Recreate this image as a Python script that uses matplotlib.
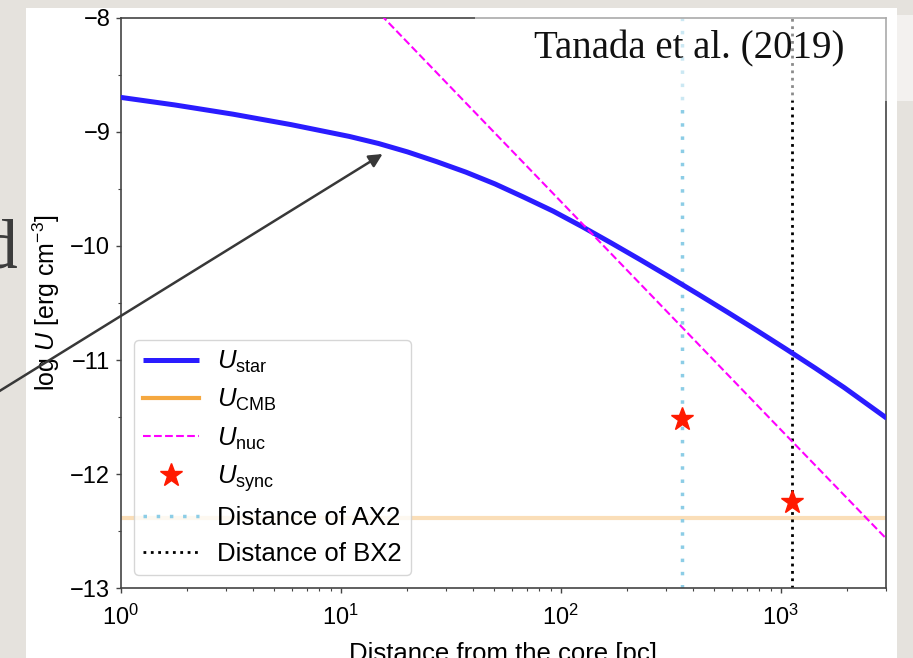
import matplotlib
matplotlib.use("Agg")
import matplotlib.pyplot as plt
from matplotlib.patches import Rectangle
from matplotlib.ticker import MultipleLocator
import numpy as np

plt.rcParams['font.family'] = ['Liberation Sans', 'DejaVu Sans']
plt.rcParams['mathtext.fontset'] = 'custom'
plt.rcParams['mathtext.rm'] = 'Liberation Sans'
plt.rcParams['mathtext.it'] = 'Liberation Sans:italic'
plt.rcParams['mathtext.bf'] = 'Liberation Sans:bold'

# stellar radiation energy density along the jet (log r [pc], log U)
star_logr = [0.0, 0.245, 0.510, 0.775, 1.039, 1.172, 1.304, 1.436, 1.569, 1.701, 1.833,
             1.966, 2.098, 2.230, 2.363, 2.495, 2.627, 2.760, 2.892, 3.024, 3.157, 3.289, 3.482]
star_logu = [-8.699, -8.765, -8.846, -8.938, -9.041, -9.103, -9.177, -9.262, -9.354, -9.457,
             -9.574, -9.696, -9.832, -9.975, -10.123, -10.273, -10.426, -10.583, -10.742,
             -10.904, -11.071, -11.242, -11.51]

# nucleus photon field (r^-2 fall-off)
nuc_r = [10, 100, 1000, 3000]
nuc_logu = [-7.61, -9.61, -11.61, -12.56]

# CMB level
cmb_r = [1, 3000]
cmb_logu = [-12.38, -12.38]

# synchrotron energy density of the two knots
sync_r = [355, 1130]
sync_logu = [-11.52, -12.24]

dist_ax2 = 355
dist_bx2 = 1130

W, H = 913, 658
fig = plt.figure(figsize=(W / 100, H / 100), dpi=100)
fig.patch.set_facecolor('#e5e2dd')

# white slide panel behind the plot
fig.add_artist(Rectangle((26 / W, 0), 871 / W, 650 / H, transform=fig.transFigure,
                         facecolor='white', edgecolor='none', zorder=-1))

ax = fig.add_axes([120.7 / W, 1 - 588.3 / H, 765 / W, 570.7 / H])

ax.plot(10 ** np.array(star_logr), star_logu, color='#2a1cff', lw=3.6, label=r'$U_{\rm star}$',
        zorder=3, solid_capstyle='butt')
ax.plot(cmb_r, cmb_logu, color='#f8c98a', lw=3, alpha=0.6, label=r'$U_{\rm CMB}$', zorder=2)
ax.plot(nuc_r, nuc_logu, color='#ff00ff', lw=1.5, ls='--', label=r'$U_{\rm nuc}$', zorder=3)
ax.plot(sync_r, sync_logu, ls='none', marker='*', ms=17, color='#ff1a00', label=r'$U_{\rm sync}$', zorder=5)
ax.axvline(dist_ax2, color='#8ccde6', lw=2.5, ls=(0, (1, 2.8)), label='Distance of AX2', zorder=2)
ax.axvline(dist_bx2, color='k', lw=2, ls=':', label='Distance of BX2', zorder=2)

ax.set_xscale('log')
ax.set_xlim(1, 3000)
ax.set_ylim(-13, -8)
ax.yaxis.set_major_locator(MultipleLocator(1))
ax.yaxis.set_minor_locator(MultipleLocator(0.5))

for s in ax.spines.values():
    s.set_color('#444444')
    s.set_linewidth(1.2)
ax.tick_params(which='major', length=3.5, width=1, color='#444444', labelsize=17, pad=4)
ax.tick_params(which='minor', length=2, width=0.8, color='#444444')
ax.tick_params(axis='x', which='major', pad=8)

ax.set_xlabel('Distance from the core [pc]', fontsize=18.5, labelpad=9)
ax.set_ylabel(r'log $U$ [erg cm$^{-3}$]', fontsize=18, labelpad=6)

leg = ax.legend(loc='lower left', fontsize=18.5, handlelength=2.2, labelspacing=0.47,
                borderpad=0.35, handletextpad=0.7)
leg.get_lines()[1].set_color('#f5a840')
leg.get_lines()[1].set_alpha(1)

# citation box in the top-right corner
fig.add_artist(Rectangle((475 / W, 1 - 101 / H), 440 / W, 86 / H, transform=fig.transFigure,
                         facecolor='white', edgecolor='none', alpha=0.55, zorder=5))
fig.text(689 / W, 1 - 58 / H, 'Tanada et al. (2019)', fontsize=28, family='Liberation Serif',
         ha='center', va='baseline', color='#111111', zorder=6)

fig.text(17 / W, 1 - 267 / H, 'd', fontsize=50, family='Liberation Serif', color='#3c3c3c',
         ha='right', va='baseline')

ax.annotate('', xy=(382.6, H - 154), xycoords='figure pixels',
            xytext=(-15, H - 400), textcoords='figure pixels',
            arrowprops=dict(arrowstyle='-|>', color='#383838', lw=1.8, mutation_scale=20,
                            shrinkA=0, shrinkB=0),
            annotation_clip=False, zorder=7)

fig.savefig('out.png', dpi=100, facecolor=fig.get_facecolor())
